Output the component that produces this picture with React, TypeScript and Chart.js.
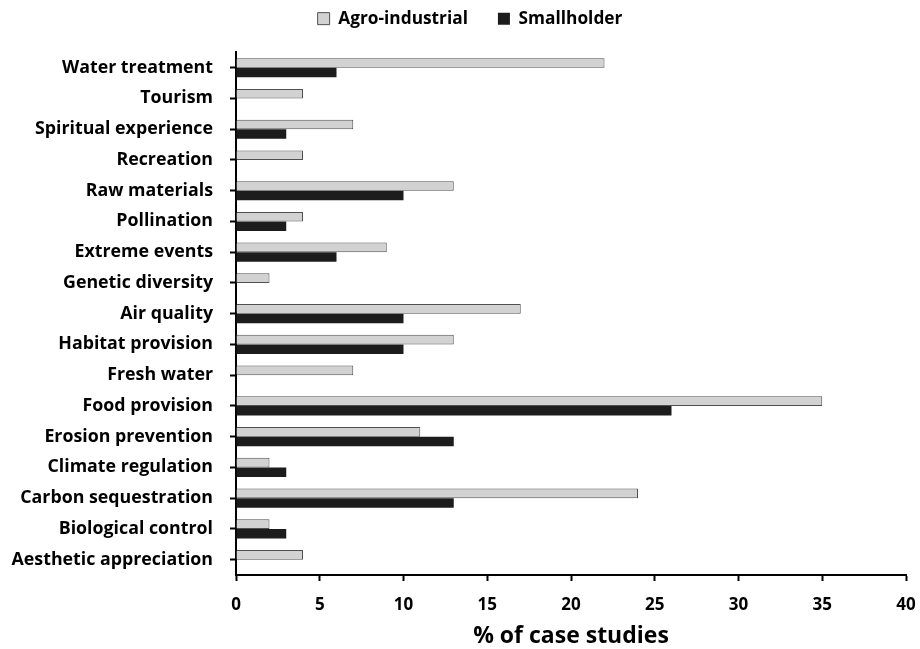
import React, { useEffect, useRef } from "react";
import { Chart, registerables } from "chart.js";

Chart.register(...registerables);

const categories = [
  "Water treatment",
  "Tourism",
  "Spiritual experience",
  "Recreation",
  "Raw materials",
  "Pollination",
  "Extreme events",
  "Genetic diversity",
  "Air quality",
  "Habitat provision",
  "Fresh water",
  "Food provision",
  "Erosion prevention",
  "Climate regulation",
  "Carbon sequestration",
  "Biological control",
  "Aesthetic appreciation",
];

const agroIndustrial = [22, 4, 7, 4, 13, 4, 9, 2, 17, 13, 7, 35, 11, 2, 24, 2, 4];
const smallholder = [6, 0, 3, 0, 10, 3, 6, 0, 10, 10, 0, 26, 13, 3, 13, 3, 0];

const xTicks = [0, 5, 10, 15, 20, 25, 30, 35, 40];

const FONT = "'Open Sans', 'DejaVu Sans', sans-serif";

const legendShift = {
  id: "legendShift",
  afterLayout(chart: any) {
    if (chart.legend) {
      chart.legend.left += 34;
    }
  },
};

export default function App() {
  const ref = useRef<HTMLCanvasElement | null>(null);

  useEffect(() => {
    if (!ref.current) return;
    const chart = new Chart(ref.current, {
      type: "bar",
      data: {
        labels: categories,
        datasets: [
          {
            label: "Agro-industrial",
            data: agroIndustrial,
            backgroundColor: "#d2d2d2",
            borderColor: "#505050",
            borderWidth: 1,
            categoryPercentage: 0.62,
            barPercentage: 1.0,
          },
          {
            label: "Smallholder",
            data: smallholder,
            backgroundColor: "#1c1c1c",
            borderColor: "#1c1c1c",
            borderWidth: 0,
            categoryPercentage: 0.62,
            barPercentage: 1.0,
          },
        ],
      },
      plugins: [legendShift],
      options: {
        indexAxis: "y",
        animation: false,
        responsive: false,
        maintainAspectRatio: false,
        layout: { padding: { top: -20, right: 14, bottom: 1, left: 0 } },
        plugins: {
          legend: {
            display: true,
            position: "top",
            labels: {
              boxWidth: 12,
              boxHeight: 12,
              padding: 30,
              color: "#000",
              font: { family: FONT, size: 17.3, weight: "bold" },
            },
          },
          title: {
            display: true,
            text: "",
            weight: 500,
            padding: { top: 0, bottom: 14 },
            font: { size: 1, lineHeight: 1 },
          } as any,
          tooltip: { enabled: false },
        },
        scales: {
          x: {
            type: "linear",
            position: "bottom",
            min: 0,
            max: 40,
            afterBuildTicks: (scale: any) => {
              scale.ticks = xTicks.map((v) => ({ value: v }));
            },
            afterFit: (scale: any) => {
              scale.height = 73;
              scale.paddingLeft = 0;
              scale.paddingRight = 0;
            },
            ticks: {
              color: "#000",
              padding: 14,
              font: { family: FONT, size: 17, weight: "bold" },
            },
            grid: {
              display: true,
              drawOnChartArea: false,
              drawTicks: true,
              tickLength: 6,
              tickColor: "#000",
              tickWidth: 2,
            },
            border: { display: true, color: "#000", width: 2 },
            title: {
              display: true,
              text: "% of case studies",
              color: "#000",
              padding: { top: 0, bottom: 0 },
              font: { family: FONT, size: 23, weight: "bold", lineHeight: 1 },
            },
          },
          y: {
            type: "category",
            afterFit: (scale: any) => {
              scale.width = 236;
            },
            ticks: {
              color: "#000",
              padding: 17,
              autoSkip: false,
              font: { family: FONT, size: 17.8, weight: "bold" },
            },
            grid: {
              display: true,
              offset: false,
              drawOnChartArea: false,
              drawTicks: true,
              tickLength: 6,
              tickColor: "#000",
              tickWidth: 2,
            },
            border: { display: true, color: "#000", width: 2 },
          },
        },
      } as any,
    });
    return () => chart.destroy();
  }, []);

  return (
    <div style={{ position: "absolute", left: 0, top: 0, width: 920, height: 649, background: "#fff" }}>
      <canvas ref={ref} width={920} height={649} style={{ display: "block", width: 920, height: 649 }} />
    </div>
  );
}
